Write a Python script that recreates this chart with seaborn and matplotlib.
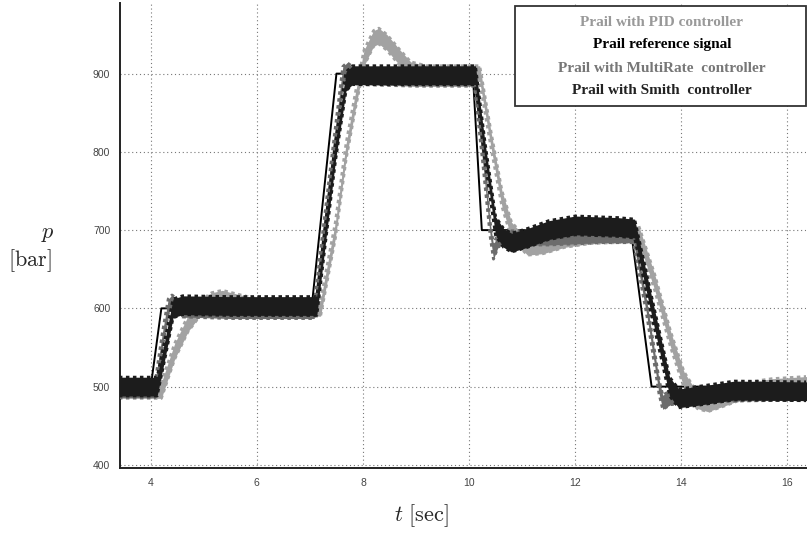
import numpy as np
import seaborn as sns
import matplotlib.pyplot as plt
from matplotlib.patches import Rectangle

sns.set_style("white")
plt.rcParams['font.family'] = ['Liberation Sans', 'DejaVu Sans']
plt.rcParams['mathtext.fontset'] = 'cm'

# reference signal (step profile)
ref_t = [3.4, 4.0, 4.2, 7.03, 7.5, 10.07, 10.24, 13.05, 13.44, 16.4]
ref_p = [500, 500, 600, 600, 900, 900, 700, 700, 500, 500]

# Smith predictor response (centre of the ripple band)
smith_t = [3.4, 4.12, 4.28, 4.42, 4.6, 5.5, 7.0, 7.13, 7.3, 7.48, 7.68, 7.8, 8.5, 9.5,
           10.12, 10.3, 10.5, 10.65, 10.8, 11.1, 11.5, 12.0, 12.8, 13.12, 13.45, 13.78,
           13.95, 14.3, 15.0, 16.4]
smith_p = [500, 500, 552, 600, 604, 603, 603, 603, 700, 800, 890, 898, 898, 898,
           898, 800, 705, 690, 684, 690, 700, 706, 704, 702, 600, 500,
           485, 488, 495, 494]

# MultiRate response
multi_t = [3.4, 4.08, 4.22, 4.33, 4.4, 4.6, 5.5, 7.0, 7.08, 7.35, 7.62, 7.7, 7.9, 9.0,
           10.1, 10.25, 10.4, 10.46, 10.55, 10.8, 11.5, 12.5, 13.1, 13.35, 13.58, 13.65,
           13.8, 14.5, 16.4]
multi_p = [495, 495, 560, 603, 608, 598, 596, 596, 596, 750, 900, 905, 895, 893,
           893, 800, 700, 672, 688, 690, 690, 693, 693, 600, 500, 480,
           486, 490, 492]

# PID response
pid_t = [3.4, 4.2, 4.45, 4.7, 4.9, 5.15, 5.35, 5.7, 6.1, 7.0, 7.2, 7.48, 7.68, 7.87,
         8.02, 8.2, 8.3, 8.45, 8.7, 8.9, 9.2, 10.2, 10.42, 10.62, 10.8, 11.1, 11.4,
         11.8, 12.3, 13.2, 13.5, 13.8, 14.05, 14.3, 14.5, 14.8, 15.2, 15.7, 16.4]
pid_p = [495, 495, 545, 580, 598, 610, 613, 607, 601, 600, 600, 700, 800, 870,
         920, 945, 948, 940, 920, 905, 900, 900, 813, 740, 700, 678, 680,
         688, 693, 695, 633, 560, 509, 482, 478, 485, 495, 500, 503]

# half height of the pressure ripple band [bar]
smith_ripple = 12
multi_ripple = 9
pid_ripple = 10

legend_labels = ["Prail with PID controller", "Prail reference signal",
                 "Prail with MultiRate  controller", "Prail with Smith  controller"]

fig, ax = plt.subplots(figsize=(8.08, 5.33), dpi=100)
fig.subplots_adjust(left=0.1485, right=0.9975, bottom=0.122, top=0.994)


def ripple_band(t, p, half, color, z):
    t = np.asarray(t, float)
    p = np.asarray(p, float)
    ax.fill_between(t, p - half, p + half, color=color, lw=0, zorder=z)
    for edge in (p - half, p + half):
        sns.lineplot(x=t, y=edge, ax=ax, color=color, lw=2.1, sort=False,
                     estimator=None, zorder=z)
        ax.lines[-1].set_dashes([1.2, 1.2])


sns.lineplot(x=ref_t, y=ref_p, ax=ax, color="black", lw=1.4, sort=False,
             estimator=None, zorder=1.5)
ripple_band(pid_t, pid_p, pid_ripple, "#a2a2a2", 2)
ripple_band(multi_t, multi_p, multi_ripple, "#6c6c6c", 3)
ripple_band(smith_t, smith_p, smith_ripple, "#1c1c1c", 4)

ax.set_xlim(3.42, 16.35)
ax.set_ylim(396, 990)
ax.set_xticks(range(4, 17, 2))
ax.set_yticks(range(400, 901, 100))
ax.grid(True, color="#777777", linestyle=(0, (1, 2.5)), lw=0.8)
ax.set_axisbelow(True)
for s in ["top", "right"]:
    ax.spines[s].set_visible(False)
for s in ["left", "bottom"]:
    ax.spines[s].set_color("#222222")
    ax.spines[s].set_linewidth(1.4)
ax.tick_params(direction="in", length=4, width=1, color="#222222",
               labelsize=7.5, labelcolor="#444444", pad=7)
ax.set_xlabel("")
ax.set_ylabel("")

fig.text(48 / 808, 1 - 233 / 533, r"$p$", fontsize=16, ha="center", va="center")
fig.text(30 / 808, 1 - 261 / 533, r"$[\mathrm{bar}]$", fontsize=16, ha="center", va="center")
fig.text(421 / 808, 1 - 516 / 533, r"$t\ [\mathrm{sec}]$", fontsize=16, ha="center", va="center")

# legend box with coloured text entries
fig.patches.append(Rectangle((515 / 808, 1 - 106 / 533), 291 / 808, 100 / 533,
                             transform=fig.transFigure, facecolor="white",
                             edgecolor="#333333", lw=1.3))
legend_colors = ["#999999", "#000000", "#777777", "#222222"]
legend_y = [22, 45, 68, 91]
for lab, col, yy in zip(legend_labels, legend_colors, legend_y):
    fig.text(662 / 808, 1 - yy / 533, lab, color=col, fontsize=11, fontweight="bold",
             family="Liberation Serif", ha="center", va="center", zorder=6)

fig.savefig("out.png", dpi=100)
